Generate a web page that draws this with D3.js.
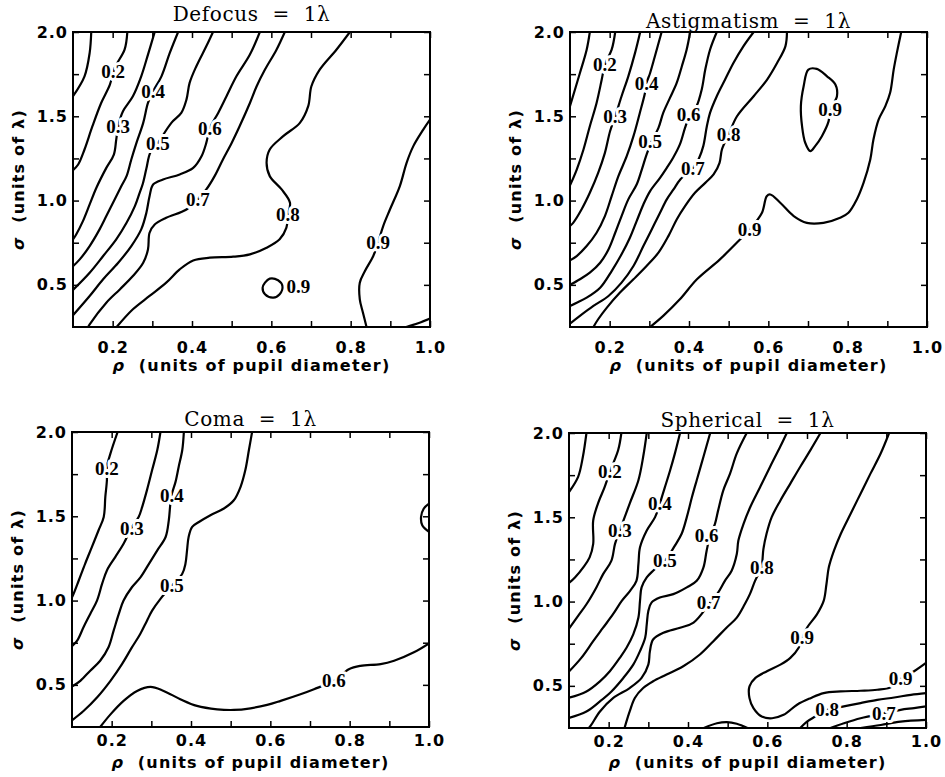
<!DOCTYPE html>
<html>
<head>
<meta charset="utf-8">
<script src="https://cdn.jsdelivr.net/npm/d3@7"></script>
<style>
  body { margin: 0; background: #fff; }
</style>
</head>
<body>
<div id="chart"></div>
<script>
// ---- data: contour lines as [rho, sigma] points ----
var panelTitles = ["Defocus  =  1\u03bb", "Astigmatism  =  1\u03bb", "Coma  =  1\u03bb", "Spherical  =  1\u03bb"];
var xTickValues = [0.2, 0.3, 0.4, 0.5, 0.6, 0.7, 0.8, 0.9, 1.0];
var xTickLabels = [0.2, 0.4, 0.6, 0.8, 1.0];
var yTickValues = [0.5, 0.75, 1.0, 1.25, 1.5, 1.75, 2.0];
var yTickLabels = [0.5, 1.0, 1.5, 2.0];

var defocusLines = [
  {level: 0.1, pts: [[0.146,2.0],[0.142,1.876],[0.129,1.737],[0.10,1.619]]},
  {level: 0.2, pts: [[0.237,2.0],[0.230,1.895],[0.205,1.787],[0.193,1.688],[0.171,1.579],[0.149,1.441],[0.129,1.303],[0.113,1.214],[0.10,1.18]]},
  {level: 0.3, pts: [[0.306,2.0],[0.289,1.866],[0.272,1.737],[0.251,1.619],[0.226,1.53],[0.214,1.441],[0.209,1.362],[0.203,1.273],[0.184,1.194],[0.159,1.076],[0.142,0.977],[0.125,0.878],[0.108,0.799],[0.10,0.77]]},
  {level: 0.4, pts: [[0.365,2.0],[0.344,1.876],[0.323,1.737],[0.302,1.648],[0.289,1.579],[0.277,1.461],[0.26,1.342],[0.247,1.244],[0.235,1.145],[0.222,1.086],[0.205,1.007],[0.184,0.908],[0.167,0.829],[0.142,0.73],[0.117,0.651],[0.10,0.61]]},
  {level: 0.5, pts: [[0.453,2.0],[0.436,1.915],[0.411,1.797],[0.394,1.698],[0.386,1.599],[0.373,1.52],[0.348,1.461],[0.314,1.342],[0.295,1.285],[0.285,1.19],[0.276,1.1],[0.268,1.046],[0.256,0.967],[0.235,0.868],[0.209,0.77],[0.176,0.671],[0.142,0.572],[0.10,0.47]]},
  {level: 0.6, pts: [[0.571,2.0],[0.546,1.866],[0.512,1.737],[0.487,1.619],[0.466,1.52],[0.445,1.431],[0.436,1.342],[0.424,1.263],[0.403,1.194],[0.369,1.155],[0.327,1.125],[0.302,1.095],[0.293,1.026],[0.285,0.928],[0.272,0.829],[0.247,0.73],[0.214,0.631],[0.176,0.533],[0.142,0.434],[0.10,0.32]]},
  {level: 0.7, pts: [[0.634,2.0],[0.613,1.895],[0.584,1.777],[0.563,1.678],[0.546,1.579],[0.52,1.441],[0.5,1.342],[0.478,1.244],[0.457,1.145],[0.436,1.066],[0.415,1.01],[0.386,0.947],[0.335,0.898],[0.306,0.858],[0.293,0.809],[0.289,0.71],[0.277,0.631],[0.251,0.552],[0.218,0.473],[0.184,0.394],[0.142,0.266],[0.138,0.25]]},
  {level: 0.8, pts: [[0.798,2.0],[0.764,1.895],[0.722,1.777],[0.701,1.678],[0.693,1.56],[0.672,1.461],[0.630,1.382],[0.596,1.303],[0.588,1.224],[0.596,1.145],[0.626,1.066],[0.647,0.987],[0.642,0.918],[0.638,0.839],[0.621,0.77],[0.588,0.72],[0.546,0.681],[0.504,0.667],[0.445,0.661],[0.403,0.645],[0.369,0.592],[0.335,0.513],[0.293,0.434],[0.251,0.355],[0.21,0.25]]},
  {level: 0.9, pts: [[1.0,1.48],[0.983,1.421],[0.958,1.323],[0.941,1.224],[0.924,1.086],[0.899,0.947],[0.882,0.849],[0.869,0.75],[0.857,0.671],[0.836,0.582],[0.823,0.513],[0.823,0.414],[0.831,0.335],[0.84,0.25]]},
  {level: 1.0, pts: [[0.94,0.25],[0.97,0.272],[1.0,0.3]]},
  {level: 0.9, closed: true, pts: [[0.584,0.513],[0.596,0.537],[0.617,0.527],[0.628,0.493],[0.621,0.444],[0.605,0.424],[0.584,0.444],[0.578,0.483]]}
];
var defocusLabels = [[0.201,1.767,"0.2"],[0.214,1.441,"0.3"],[0.302,1.648,"0.4"],[0.314,1.342,"0.5"],[0.445,1.431,"0.6"],[0.415,1.01,"0.7"],[0.642,0.918,"0.8"],[0.869,0.75,"0.9"],[0.668,0.489,"0.9"]];

var astigLines = [
  {level: 0.1, pts: [[0.15,2.0],[0.142,1.895],[0.125,1.757],[0.10,1.56]]},
  {level: 0.2, pts: [[0.214,2.0],[0.205,1.895],[0.188,1.807],[0.18,1.718],[0.167,1.579],[0.15,1.441],[0.134,1.303],[0.117,1.184],[0.10,1.09]]},
  {level: 0.3, pts: [[0.277,2.0],[0.264,1.876],[0.247,1.737],[0.23,1.619],[0.214,1.5],[0.201,1.411],[0.188,1.283],[0.171,1.164],[0.15,1.046],[0.129,0.947],[0.108,0.868],[0.10,0.85]]},
  {level: 0.4, pts: [[0.331,2.0],[0.314,1.856],[0.302,1.757],[0.293,1.698],[0.289,1.638],[0.276,1.52],[0.26,1.382],[0.243,1.263],[0.222,1.145],[0.205,1.026],[0.188,0.908],[0.167,0.809],[0.142,0.73],[0.117,0.671],[0.10,0.645]]},
  {level: 0.5, pts: [[0.403,2.0],[0.394,1.895],[0.382,1.797],[0.369,1.698],[0.352,1.609],[0.335,1.52],[0.323,1.431],[0.306,1.352],[0.293,1.273],[0.281,1.184],[0.268,1.095],[0.247,1.007],[0.230,0.908],[0.214,0.809],[0.197,0.71],[0.176,0.631],[0.15,0.572],[0.125,0.533],[0.10,0.5]]},
  {level: 0.6, pts: [[0.47,2.0],[0.453,1.895],[0.441,1.777],[0.432,1.658],[0.419,1.56],[0.403,1.51],[0.39,1.431],[0.377,1.333],[0.36,1.254],[0.344,1.194],[0.327,1.135],[0.302,1.056],[0.285,0.977],[0.268,0.878],[0.251,0.779],[0.23,0.681],[0.205,0.582],[0.176,0.483],[0.142,0.424],[0.117,0.394],[0.10,0.375]]},
  {level: 0.7, pts: [[0.563,2.0],[0.537,1.915],[0.512,1.816],[0.491,1.718],[0.47,1.619],[0.453,1.52],[0.445,1.441],[0.436,1.323],[0.425,1.25],[0.41,1.194],[0.378,1.125],[0.361,1.066],[0.344,1.007],[0.327,0.928],[0.306,0.829],[0.285,0.73],[0.26,0.612],[0.23,0.513],[0.197,0.434],[0.159,0.375],[0.125,0.316],[0.10,0.27]]},
  {level: 0.8, pts: [[0.647,2.0],[0.643,1.915],[0.622,1.816],[0.597,1.718],[0.563,1.619],[0.521,1.5],[0.5,1.392],[0.483,1.303],[0.477,1.224],[0.462,1.155],[0.441,1.105],[0.415,1.046],[0.39,0.967],[0.369,0.888],[0.348,0.789],[0.323,0.691],[0.293,0.612],[0.26,0.533],[0.226,0.454],[0.193,0.365],[0.171,0.296],[0.159,0.25]]},
  {level: 0.9, pts: [[0.302,0.25],[0.335,0.316],[0.377,0.414],[0.42,0.533],[0.478,0.651],[0.529,0.77],[0.553,0.829],[0.584,0.928],[0.596,1.026],[0.605,1.036],[0.63,0.987],[0.664,0.908],[0.697,0.868],[0.739,0.868],[0.781,0.898],[0.802,0.928],[0.823,1.007],[0.84,1.105],[0.857,1.244],[0.865,1.362],[0.878,1.48],[0.895,1.56],[0.907,1.639],[0.916,1.777],[0.924,1.876],[0.935,2.0]]},
  {level: 0.9, closed: true, pts: [[0.706,1.293],[0.693,1.343],[0.685,1.441],[0.682,1.56],[0.689,1.678],[0.701,1.777],[0.722,1.781],[0.748,1.737],[0.769,1.688],[0.773,1.619],[0.756,1.54],[0.752,1.471],[0.735,1.382],[0.718,1.323]]}
];
var astigLabels = [[0.188,1.806,"0.2"],[0.214,1.5,"0.3"],[0.293,1.698,"0.4"],[0.302,1.352,"0.5"],[0.399,1.51,"0.6"],[0.41,1.194,"0.7"],[0.5,1.392,"0.8"],[0.553,0.829,"0.9"],[0.756,1.54,"0.9"]];

var comaLines = [
  {level: 0.2, pts: [[0.215,2.0],[0.197,1.873],[0.188,1.794],[0.188,1.714],[0.184,1.615],[0.18,1.496],[0.167,1.417],[0.15,1.317],[0.133,1.218],[0.117,1.119],[0.104,1.04],[0.10,1.02]]},
  {level: 0.3, pts: [[0.323,2.0],[0.315,1.893],[0.302,1.774],[0.289,1.655],[0.277,1.556],[0.268,1.496],[0.251,1.437],[0.23,1.337],[0.209,1.258],[0.188,1.179],[0.176,1.1],[0.163,1.0],[0.146,0.921],[0.129,0.842],[0.113,0.762],[0.10,0.73]]},
  {level: 0.4, pts: [[0.382,2.0],[0.378,1.893],[0.369,1.794],[0.361,1.704],[0.352,1.635],[0.348,1.575],[0.344,1.476],[0.336,1.377],[0.315,1.298],[0.294,1.218],[0.273,1.139],[0.251,1.079],[0.23,1.0],[0.218,0.921],[0.205,0.822],[0.192,0.723],[0.171,0.643],[0.146,0.584],[0.121,0.524],[0.10,0.49]]},
  {level: 0.5, pts: [[0.554,2.0],[0.546,1.893],[0.537,1.774],[0.525,1.675],[0.508,1.595],[0.483,1.546],[0.449,1.506],[0.42,1.466],[0.403,1.437],[0.394,1.377],[0.39,1.298],[0.386,1.218],[0.378,1.159],[0.352,1.089],[0.323,1.01],[0.302,0.94],[0.289,0.881],[0.272,0.802],[0.251,0.722],[0.226,0.623],[0.197,0.524],[0.163,0.425],[0.129,0.345],[0.10,0.29]]},
  {level: 0.6, pts: [[0.171,0.25],[0.197,0.325],[0.23,0.405],[0.264,0.464],[0.298,0.488],[0.331,0.464],[0.373,0.415],[0.415,0.375],[0.466,0.355],[0.508,0.351],[0.55,0.361],[0.592,0.381],[0.626,0.405],[0.676,0.444],[0.71,0.474],[0.76,0.524],[0.798,0.593],[0.827,0.613],[0.878,0.623],[0.912,0.643],[0.962,0.693],[1.0,0.746]]},
  {level: 0.7, pts: [[1.0,1.575],[0.987,1.546],[0.98,1.496],[0.983,1.447],[1.0,1.407]]}
];
var comaLabels = [[0.188,1.784,"0.2"],[0.251,1.427,"0.3"],[0.352,1.625,"0.4"],[0.352,1.089,"0.5"],[0.76,0.524,"0.6"]];

var sphericalLines = [
  {level: 0.1, pts: [[0.144,2.0],[0.135,1.859],[0.123,1.74],[0.10,1.65]]},
  {level: 0.2, pts: [[0.232,2.0],[0.224,1.899],[0.203,1.77],[0.19,1.68],[0.173,1.581],[0.161,1.481],[0.161,1.342],[0.152,1.262],[0.136,1.203],[0.115,1.143],[0.10,1.11]]},
  {level: 0.3, pts: [[0.296,2.0],[0.287,1.859],[0.275,1.72],[0.253,1.581],[0.228,1.422],[0.216,1.342],[0.207,1.243],[0.186,1.163],[0.169,1.084],[0.144,0.984],[0.123,0.915],[0.10,0.84]]},
  {level: 0.4, pts: [[0.38,2.0],[0.367,1.879],[0.355,1.779],[0.342,1.68],[0.334,1.62],[0.329,1.58],[0.317,1.501],[0.296,1.422],[0.279,1.322],[0.275,1.223],[0.27,1.123],[0.254,1.064],[0.233,1.004],[0.211,0.925],[0.186,0.845],[0.161,0.765],[0.131,0.666],[0.10,0.585]]},
  {level: 0.5, pts: [[0.456,2.0],[0.439,1.859],[0.422,1.72],[0.41,1.62],[0.397,1.501],[0.384,1.402],[0.367,1.332],[0.342,1.243],[0.312,1.183],[0.296,1.143],[0.283,1.084],[0.279,1.004],[0.275,0.905],[0.262,0.805],[0.245,0.726],[0.228,0.666],[0.203,0.587],[0.178,0.527],[0.144,0.467],[0.10,0.43]]},
  {level: 0.6, pts: [[0.548,2.0],[0.523,1.879],[0.506,1.759],[0.489,1.66],[0.476,1.541],[0.468,1.461],[0.456,1.392],[0.447,1.302],[0.439,1.203],[0.422,1.123],[0.397,1.084],[0.363,1.044],[0.329,1.024],[0.308,0.994],[0.3,0.944],[0.296,0.865],[0.292,0.785],[0.279,0.706],[0.262,0.626],[0.237,0.547],[0.207,0.467],[0.178,0.408],[0.144,0.348],[0.10,0.31]]},
  {level: 0.7, pts: [[0.649,2.0],[0.633,1.921],[0.607,1.8],[0.582,1.68],[0.557,1.561],[0.54,1.461],[0.527,1.362],[0.523,1.282],[0.51,1.183],[0.493,1.123],[0.475,1.05],[0.456,0.994],[0.414,0.875],[0.38,0.845],[0.338,0.815],[0.312,0.775],[0.304,0.706],[0.3,0.626],[0.283,0.547],[0.253,0.487],[0.211,0.427],[0.178,0.348],[0.156,0.268],[0.15,0.25]]},
  {level: 0.8, pts: [[0.734,2.0],[0.709,1.9],[0.683,1.8],[0.658,1.7],[0.633,1.6],[0.611,1.501],[0.598,1.402],[0.59,1.31],[0.585,1.203],[0.569,1.123],[0.556,1.044],[0.543,0.984],[0.523,0.905],[0.497,0.845],[0.464,0.765],[0.43,0.686],[0.388,0.616],[0.346,0.567],[0.312,0.527],[0.287,0.487],[0.266,0.428],[0.253,0.348],[0.24,0.25]]},
  {level: 0.9, pts: [[0.907,2.0],[0.886,1.88],[0.86,1.759],[0.835,1.64],[0.81,1.521],[0.785,1.401],[0.768,1.302],[0.755,1.203],[0.749,1.103],[0.742,1.004],[0.725,0.924],[0.7,0.845],[0.688,0.785],[0.679,0.726],[0.658,0.666],[0.633,0.626],[0.599,0.587],[0.57,0.547],[0.555,0.497],[0.555,0.427],[0.565,0.368],[0.586,0.318],[0.612,0.308],[0.641,0.328],[0.675,0.388],[0.709,0.427],[0.742,0.457],[0.785,0.467],[0.835,0.471],[0.877,0.477],[0.911,0.491],[0.936,0.543],[0.97,0.587],[1.0,0.636]]},
  {level: 0.8, pts: [[0.683,0.25],[0.7,0.288],[0.721,0.318],[0.751,0.358],[0.793,0.378],[0.835,0.398],[0.877,0.417],[0.92,0.431],[0.962,0.447],[1.0,0.457]]},
  {level: 0.7, pts: [[0.759,0.25],[0.793,0.278],[0.835,0.308],[0.894,0.338],[0.936,0.358],[0.97,0.368],[1.0,0.378]]},
  {level: 0.6, pts: [[0.835,0.25],[0.886,0.268],[0.936,0.288],[1.0,0.298]]},
  {level: 0.8, pts: [[0.44,0.25],[0.473,0.278],[0.498,0.285],[0.523,0.275],[0.55,0.25]]}
];
var sphericalLabels = [[0.203,1.771,"0.2"],[0.228,1.422,"0.3"],[0.329,1.581,"0.4"],[0.342,1.243,"0.5"],[0.447,1.392,"0.6"],[0.452,0.994,"0.7"],[0.586,1.203,"0.8"],[0.688,0.785,"0.9"],[0.936,0.543,"0.9"],[0.751,0.358,"0.8"],[0.894,0.338,"0.7"]];

// ---- layout ----
var width = 945, height = 777;
var pw = 357, ph = 295;
var panels = [
  {title: panelTitles[0], lines: defocusLines,   labels: defocusLabels,   left: 73,  top: 32,  titleGap: 11, tickPad: 15, xTitleGap: 44},
  {title: panelTitles[1], lines: astigLines,     labels: astigLabels,     left: 570, top: 32,  titleGap: 4,  tickPad: 15, xTitleGap: 44},
  {title: panelTitles[2], lines: comaLines,      labels: comaLabels,      left: 72,  top: 432, titleGap: 6,  tickPad: 8,  xTitleGap: 41},
  {title: panelTitles[3], lines: sphericalLines, labels: sphericalLabels, left: 569, top: 433, titleGap: 6,  tickPad: 8,  xTitleGap: 40}
];

var svg = d3.select("#chart")
    .append("svg")
    .attr("width", width)
    .attr("height", height)
    .style("font-family", "'DejaVu Sans', sans-serif");

var x = d3.scaleLinear().domain([0.1, 1.0]).range([0, pw]);
var y = d3.scaleLinear().domain([0.25, 2.0]).range([ph, 0]);
var fmt = d3.format(".1f");

var openLine = d3.line()
    .x(function(d) { return x(d[0]); })
    .y(function(d) { return y(d[1]); })
    .curve(d3.curveCatmullRom.alpha(0.5));
var closedLine = d3.line()
    .x(function(d) { return x(d[0]); })
    .y(function(d) { return y(d[1]); })
    .curve(d3.curveCatmullRomClosed.alpha(0.5));

panels.forEach(function(p, i) {
  var g = svg.append("g")
      .attr("transform", "translate(" + p.left + "," + p.top + ")");

  g.append("clipPath").attr("id", "clip" + i)
      .append("rect").attr("width", pw).attr("height", ph);

  // contour lines
  g.append("g")
      .attr("clip-path", "url(#clip" + i + ")")
      .selectAll("path")
      .data(p.lines)
      .enter()
      .append("path")
      .attr("d", function(d) { return d.closed ? closedLine(d.pts) : openLine(d.pts); })
      .style("fill", "none")
      .style("stroke", "#000")
      .style("stroke-width", 2.2)
      .style("stroke-linejoin", "round");

  // contour level labels, white halo breaks the line under them
  g.append("g")
      .selectAll("text")
      .data(p.labels)
      .enter()
      .append("text")
      .attr("x", function(d) { return x(d[0]); })
      .attr("y", function(d) { return y(d[1]); })
      .attr("dy", "0.35em")
      .attr("text-anchor", "middle")
      .style("font-family", "'Liberation Serif', serif")
      .style("font-weight", "bold")
      .style("font-size", "19px")
      .style("paint-order", "stroke")
      .style("stroke", "#fff")
      .style("stroke-width", 6)
      .style("stroke-linejoin", "round")
      .text(function(d) { return d[2]; });

  // axes, ticks point inward
  var bottom = g.append("g")
      .attr("transform", "translate(0," + ph + ")")
      .call(d3.axisBottom(x).tickValues(xTickValues).tickSizeInner(-6).tickSizeOuter(0)
        .tickPadding(p.tickPad)
        .tickFormat(function(d) { return xTickLabels.indexOf(Math.round(d * 10) / 10) >= 0 ? fmt(d) : ""; }));
  g.append("g")
      .call(d3.axisTop(x).tickValues(xTickValues).tickSizeInner(-6).tickSizeOuter(0).tickFormat(""));
  var left = g.append("g")
      .call(d3.axisLeft(y).tickValues(yTickValues).tickSizeInner(-6).tickSizeOuter(0)
        .tickPadding(5)
        .tickFormat(function(d) { return yTickLabels.indexOf(d) >= 0 ? fmt(d) : ""; }));
  g.append("g")
      .attr("transform", "translate(" + pw + ",0)")
      .call(d3.axisRight(y).tickValues(yTickValues).tickSizeInner(-6).tickSizeOuter(0).tickFormat(""));

  g.selectAll(".domain").remove();
  g.selectAll(".tick line").style("stroke", "#000").style("stroke-width", 1.5);
  [bottom, left].forEach(function(a) {
    a.selectAll("text")
        .style("font-family", "'DejaVu Sans', sans-serif")
        .style("font-size", "16px")
        .style("font-weight", "bold")
        .style("letter-spacing", "1px")
        .style("fill", "#000");
  });

  // frame
  g.append("rect")
      .attr("width", pw)
      .attr("height", ph)
      .style("fill", "none")
      .style("stroke", "#000")
      .style("stroke-width", 2);

  // title
  g.append("text")
      .attr("x", pw / 2)
      .attr("y", -p.titleGap)
      .attr("text-anchor", "middle")
      .attr("xml:space", "preserve")
      .style("font-family", "'DejaVu Serif', serif")
      .style("font-size", "20px")
      .style("letter-spacing", "0.6px")
      .style("white-space", "pre")
      .text(p.title);

  // axis titles
  var xt = g.append("text")
      .attr("x", pw / 2)
      .attr("y", ph + p.xTitleGap)
      .attr("text-anchor", "middle")
      .style("font-size", "16px")
      .style("font-weight", "bold")
      .style("letter-spacing", "1.2px");
  xt.append("tspan").style("font-style", "italic").text("\u03c1");
  xt.append("tspan").text("\u00a0\u00a0(units of pupil diameter)");

  var yt = g.append("text")
      .attr("transform", "translate(-49," + (ph / 2) + ") rotate(-90)")
      .attr("text-anchor", "middle")
      .style("font-size", "16px")
      .style("font-weight", "bold")
      .style("letter-spacing", "1.2px");
  yt.append("tspan").style("font-style", "italic").text("\u03c3");
  yt.append("tspan").text("\u00a0\u00a0(units of \u03bb)");
});
</script>
</body>
</html>
